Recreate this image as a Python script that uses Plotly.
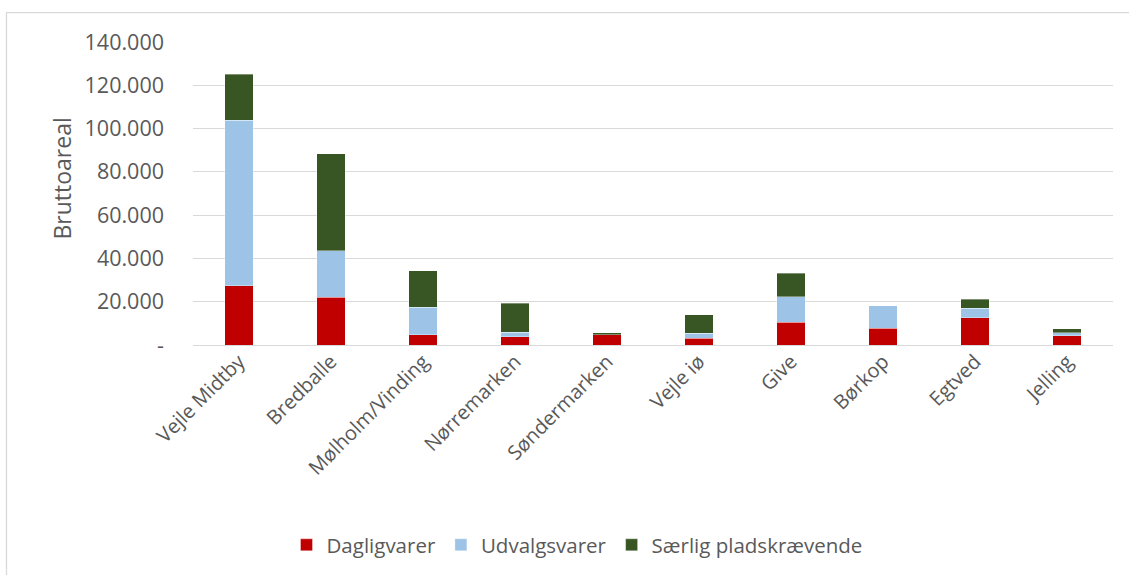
import plotly.graph_objects as go

categories = ["Vejle Midtby", "Bredballe", "Mølholm/Vinding", "Nørremarken", "Søndermarken",
              "Vejle iø", "Give", "Børkop", "Egtved", "Jelling"]
dagligvarer = [27400, 22000, 4800, 3900, 4800, 3100, 10600, 7700, 12700, 4300]
udvalgsvarer = [76500, 21600, 12700, 2000, 0, 2300, 11600, 10500, 4300, 1400]
saerlig = [21100, 44700, 16900, 13300, 900, 8600, 11000, 0, 4200, 1800]

tick_vals = [0, 20000, 40000, 60000, 80000, 100000, 120000, 140000]
tick_text = ["-", "20.000", "40.000", "60.000", "80.000", "100.000", "120.000", "140.000"]

series = [("Dagligvarer", dagligvarer, "#C00000"),
          ("Udvalgsvarer", udvalgsvarer, "#9DC3E6"),
          ("Særlig pladskrævende", saerlig, "#375623")]

FONT = "Open Sans"
GREY = "#595959"

fig = go.Figure()
for name, vals, col in series:
    fig.add_trace(go.Bar(x=categories, y=vals, name=name,
                         marker=dict(color=col, line=dict(color="rgba(255,255,255,0.6)", width=0.6))))

L, R, T, B = 193, 16, 42, 229
W, H = 1129, 575
pw, ph = W - L - R, H - T - B

def px(xp):
    return (xp - L) / pw

def py(yp):
    return (H - B - yp) / ph

fig.update_layout(
    width=W, height=H,
    barmode="stack", bargap=0.69,
    margin=dict(l=L, r=R, t=T, b=B),
    plot_bgcolor="white", paper_bgcolor="white",
    font=dict(family=FONT, color=GREY, size=19),
    showlegend=True,
    legend=dict(orientation="h", x=px(577), xanchor="center",
                y=py(545), yanchor="middle", itemwidth=30,
                font=dict(size=20.5, color=GREY), traceorder="normal"),
    xaxis=dict(tickangle=-45, showgrid=False, showline=False, ticks="",
               tickfont=dict(size=20, color=GREY)),
    yaxis=dict(range=[0, 140000], tickvals=tick_vals, ticktext=tick_text,
               showgrid=True, gridcolor="#D9D9D9", gridwidth=1.3,
               zeroline=True, zerolinecolor="#D9D9D9", zerolinewidth=1.3,
               showline=False, ticks="", ticklabelstandoff=28,
               tickfont=dict(size=21.5, color=GREY)),
)

fig.add_annotation(text="Bruttoareal", xref="paper", yref="paper",
                   x=px(62), y=py(179), xanchor="center", yanchor="middle",
                   textangle=-90, showarrow=False,
                   font=dict(size=23, color=GREY, family=FONT))

# chart-area border (light grey), extends beyond the visible crop on right/bottom
fig.add_shape(type="rect", xref="paper", yref="paper",
              x0=px(6.5), x1=px(W + 10),
              y0=py(H + 10), y1=py(12.5),
              line=dict(color="#D9D9D9", width=1.3), fillcolor="rgba(0,0,0,0)", layer="below")

fig.write_html("out.html", config={"displayModeBar": False},
               post_script="document.body.style.margin='0';document.body.style.overflow='hidden';")
